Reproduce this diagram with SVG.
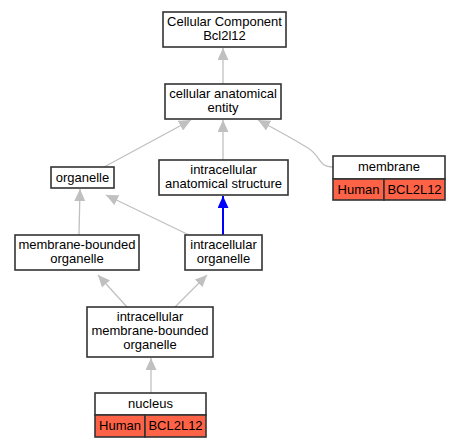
<svg xmlns="http://www.w3.org/2000/svg" width="461" height="448" viewBox="0 0 461 448">
<style>
.n{fill:#fff;stroke:#333;stroke-width:1.6}
.r{fill:#ff6347;stroke:#333;stroke-width:1.6}
text{font-family:"Liberation Sans",Arial,sans-serif;font-size:13px;text-anchor:middle;fill:#000}
.e{fill:none;stroke:#c0c0c0;stroke-width:1.3}
.b{fill:none;stroke:#0000ff;stroke-width:2}
</style>
<defs>
<marker id="g" viewBox="0 0 12 11" refX="12" refY="5.5" markerWidth="12" markerHeight="11" markerUnits="userSpaceOnUse" orient="auto"><path d="M0,0L12,5.5L0,11z" fill="#c0c0c0"/></marker>
<marker id="bl" viewBox="0 0 12 11" refX="12" refY="5.5" markerWidth="12" markerHeight="11" markerUnits="userSpaceOnUse" orient="auto"><path d="M0,0L12,5.5L0,11z" fill="#0000ff"/></marker>
</defs>
<rect width="461" height="448" fill="#fff"/>
<g id="edges">
<path class="e" d="M223,84L223,48" marker-end="url(#g)"/>
<path class="e" d="M104,167L191,120" marker-end="url(#g)"/>
<path class="e" d="M223,160L223,120" marker-end="url(#g)"/>
<path class="e" d="M333,167C318,167 322,157 308,148C290,137 275,129 258,120" marker-end="url(#g)"/>
<path class="e" d="M79,235L80,189" marker-end="url(#g)"/>
<path class="e" d="M189,235L106,195" marker-end="url(#g)"/>
<path class="b" d="M223,235L223,196" marker-end="url(#bl)"/>
<path class="e" d="M127,307L98,275" marker-end="url(#g)"/>
<path class="e" d="M175,307L207,275" marker-end="url(#g)"/>
<path class="e" d="M151,393L151,358" marker-end="url(#g)"/>
</g>
<g id="cc"><rect class="n" x="163" y="12" width="123" height="35"/><text x="224.5" y="26">Cellular Component</text><text x="224.5" y="40">Bcl2l12</text></g>
<g id="cae"><rect class="n" x="165" y="84" width="116" height="35"/><text x="223" y="98">cellular anatomical</text><text x="223" y="112">entity</text></g>
<g id="organelle"><rect class="n" x="51" y="167" width="63" height="21"/><text x="82.5" y="182">organelle</text></g>
<g id="ias"><rect class="n" x="159" y="160" width="129" height="35"/><text x="223.5" y="174">intracellular</text><text x="223.5" y="188">anatomical structure</text></g>
<g id="membrane"><rect class="n" x="333" y="156" width="112" height="23"/><text x="389" y="171">membrane</text><rect class="r" x="333" y="179" width="51" height="21"/><text x="358.5" y="194">Human</text><rect class="r" x="384" y="179" width="61" height="21"/><text x="414.5" y="194">BCL2L12</text></g>
<g id="mbo"><rect class="n" x="15" y="235" width="124" height="35"/><text x="77" y="249">membrane-bounded</text><text x="77" y="263">organelle</text></g>
<g id="io"><rect class="n" x="185" y="235" width="77" height="35"/><text x="223.5" y="249">intracellular</text><text x="223.5" y="263">organelle</text></g>
<g id="imbo"><rect class="n" x="87" y="307" width="126" height="50"/><text x="150" y="321">intracellular</text><text x="150" y="335">membrane-bounded</text><text x="150" y="349">organelle</text></g>
<g id="nucleus"><rect class="n" x="95" y="393" width="111" height="22"/><text x="150.5" y="408">nucleus</text><rect class="r" x="95" y="415" width="50" height="22"/><text x="120" y="430">Human</text><rect class="r" x="145" y="415" width="61" height="22"/><text x="175.5" y="430">BCL2L12</text></g>
</svg>
